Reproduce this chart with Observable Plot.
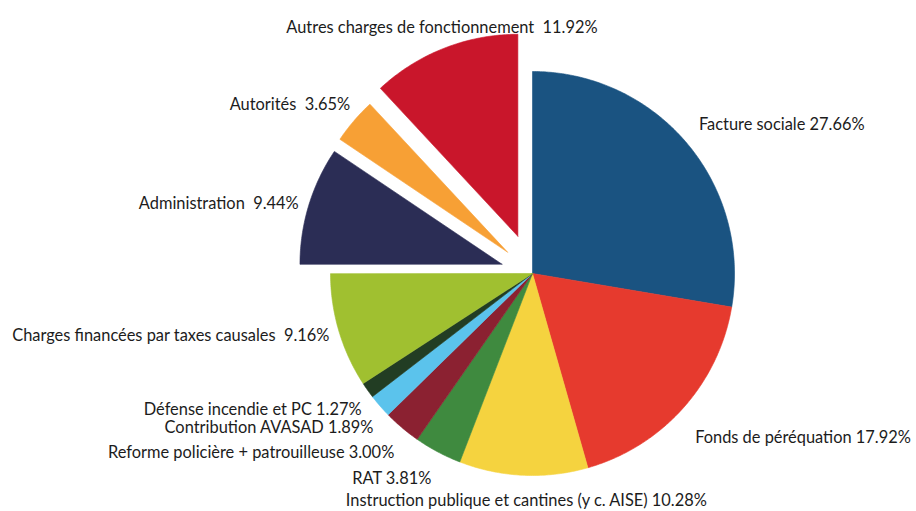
<!DOCTYPE html>
<html>
<head>
<meta charset="utf-8">
<script src="https://cdn.jsdelivr.net/npm/d3@7"></script>
<script src="https://cdn.jsdelivr.net/npm/@observablehq/plot@0.6"></script>
<style>
  html, body { margin: 0; padding: 0; background: #ffffff; }
  #chart { width: 916px; height: 511px; }
</style>
</head>
<body>
<div id="chart"></div>
<script>
// ---- data (clockwise from 12 o'clock) ----
const labels = [
  "Facture sociale",
  "Fonds de péréquation",
  "Instruction publique et cantines (y c. AISE)",
  "RAT",
  "Reforme policière + patrouilleuse",
  "Contribution AVASAD",
  "Défense incendie et PC",
  "Charges financées par taxes causales",
  "Administration",
  "Autorités",
  "Autres charges de fonctionnement"
];
const values = [27.66, 17.92, 10.28, 3.81, 3.00, 1.89, 1.27, 9.16, 9.44, 3.65, 11.92];
const valueText = ["27.66%", "17.92%", "10.28%", "3.81%", "3.00%", "1.89%", "1.27%", "9.16%", "9.44%", "3.65%", "11.92%"];
const labelSep = [" ", " ", " ", " ", " ", " ", " ", "  ", "  ", "  ", "  "];

// ---- styles ----
const colors = ["#1a5381", "#e63a2e", "#f5d33f", "#3f8a3f", "#8b2131", "#5bc3ec", "#223d23", "#a0c030", "#2b2d55", "#f7a035", "#c9162b"];
const explode = [0, 0, 0, 0, 0, 0, 0, 0, 0.158, 0.163, 0.198]; // fraction of radius
const labelNudge = [[95, -18], [120, 30], [3, 25], [-46, 27], [-151, 25], [-111, 22], [-115, 20], [-168, 5], [-90, -2], [-64, -16], [-2, -21]];

// ---- geometry via d3.pie ----
const arcs = d3.pie().sort(null).value(d => d)(values);
const pts = [];
const mids = [];
arcs.forEach((a, i) => {
  const mid = (a.startAngle + a.endAngle) / 2;
  const ox = explode[i] * Math.sin(mid), oy = explode[i] * Math.cos(mid);
  const lab = labels[i];
  pts.push({label: lab, x: ox, y: oy});
  const n = Math.max(2, Math.ceil((a.endAngle - a.startAngle) / 0.01));
  for (let k = 0; k <= n; k++) {
    const t = a.startAngle + (a.endAngle - a.startAngle) * k / n;
    pts.push({label: lab, x: ox + Math.sin(t), y: oy + Math.cos(t)});
  }
  pts.push({label: lab, x: ox, y: oy});
  mids.push({label: lab, text: lab + labelSep[i] + valueText[i], x: ox + Math.sin(mid), y: oy + Math.cos(mid), i});
});

const textMarks = mids.map(m => Plot.text([m], {
  x: "x", y: "y", text: "text",
  dx: labelNudge[m.i][0], dy: labelNudge[m.i][1],
  fill: "#1c1c1c", fontSize: 16.4, textAnchor: "middle", lineAnchor: "middle"
}));

const chart = Plot.plot({
  width: 916,
  height: 511,
  marginLeft: 330,
  marginRight: 182,
  marginTop: 71,
  marginBottom: 36,
  style: {fontFamily: "Lato, 'Open Sans', sans-serif", background: "#ffffff", overflow: "visible"},
  x: {domain: [-1, 1], axis: null},
  y: {domain: [-1, 1], axis: null},
  color: {domain: labels, range: colors},
  marks: [
    Plot.line(pts, {x: "x", y: "y", z: "label", fill: "label", stroke: "label", strokeWidth: 0.6, curve: "linear"}),
    ...textMarks
  ]
});
document.getElementById("chart").appendChild(chart);
</script>
</body>
</html>
